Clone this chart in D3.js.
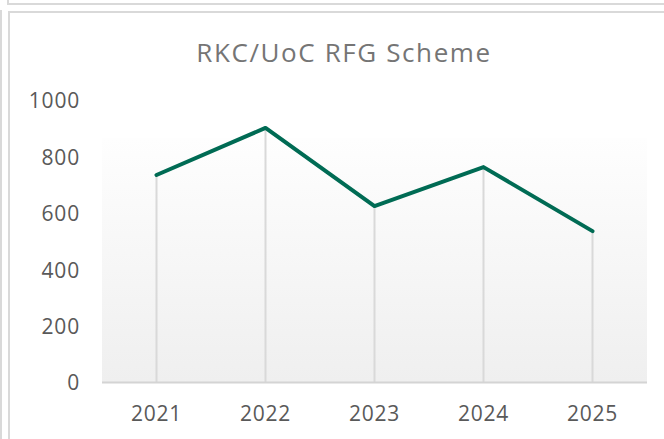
<!DOCTYPE html>
<html>
<head>
<meta charset="utf-8">
<script src="https://cdn.jsdelivr.net/npm/d3@7"></script>
<style>
  body { margin: 0; background: #fff; }
  svg { display: block; font-family: "Open Sans", sans-serif; }
</style>
</head>
<body>
<div id="chart"></div>
<script>
const years = ['2021', '2022', '2023', '2024', '2025'];
const values = [734, 901, 624, 762, 535];
const yTicks = [0, 200, 400, 600, 800, 1000];
const title = 'RKC/UoC RFG Scheme';

const width = 664, height = 439;
const svg = d3.select('#chart').append('svg')
    .attr('width', width)
    .attr('height', height);

// frame lines (neighbouring chart + this chart's border)
const frame = '#d9d9d9';
svg.append('rect').attr('x', 8).attr('y', -10).attr('width', 700).attr('height', 14)
    .style('fill', 'none').style('stroke', frame).style('stroke-width', 2);
svg.append('line').attr('x1', 1).attr('x2', 1).attr('y1', 10).attr('y2', height)
    .style('stroke', frame).style('stroke-width', 2);
svg.append('rect').attr('x', 9).attr('y', 12).attr('width', 700).attr('height', 500)
    .style('fill', 'none').style('stroke', frame).style('stroke-width', 2);

const plot = { left: 102, right: 647, top: 100, bottom: 382 };

const x = d3.scaleBand().domain(years).range([plot.left, plot.right]);
const y = d3.scaleLinear().domain([0, 1000]).range([plot.bottom, plot.top]);

// gradient plot area
const defs = svg.append('defs');
const grad = defs.append('linearGradient').attr('id', 'bg')
    .attr('x1', 0).attr('y1', 0).attr('x2', 0).attr('y2', 1);
grad.append('stop').attr('offset', '0%').attr('stop-color', '#fefefe');
grad.append('stop').attr('offset', '100%').attr('stop-color', '#efefef');

svg.append('rect')
    .attr('x', plot.left).attr('y', 138)
    .attr('width', plot.right - plot.left).attr('height', plot.bottom - 138)
    .style('fill', 'url(#bg)');

// title
svg.append('text')
    .attr('x', 344).attr('y', 62)
    .attr('text-anchor', 'middle')
    .style('font-size', '26px')
    .style('letter-spacing', '1.6px')
    .style('fill', '#757575')
    .text(title);

// y axis labels
svg.selectAll('text.ytick')
    .data(yTicks)
    .enter()
    .append('text')
    .attr('class', 'ytick')
    .attr('x', 80)
    .attr('y', d => y(d) + 1)
    .attr('dy', '0.35em')
    .attr('text-anchor', 'end')
    .style('font-size', '21px')
    .style('letter-spacing', '0.8px')
    .style('fill', '#595959')
    .text(d => d);

// drop lines
const cx = d => x(d) + x.bandwidth() / 2;
svg.selectAll('line.drop')
    .data(years)
    .enter()
    .append('line')
    .attr('class', 'drop')
    .attr('x1', cx).attr('x2', cx)
    .attr('y1', (d, i) => y(values[i]))
    .attr('y2', plot.bottom)
    .style('stroke', '#d9d9d9')
    .style('stroke-width', 2);

// x axis line
svg.append('line')
    .attr('x1', plot.left).attr('x2', plot.right)
    .attr('y1', plot.bottom + 0.5).attr('y2', plot.bottom + 0.5)
    .style('stroke', '#d4d4d4')
    .style('stroke-width', 2);

// x labels
svg.selectAll('text.xtick')
    .data(years)
    .enter()
    .append('text')
    .attr('class', 'xtick')
    .attr('x', cx)
    .attr('y', 414)
    .attr('dy', '0.35em')
    .attr('text-anchor', 'middle')
    .style('font-size', '21px')
    .style('letter-spacing', '0.8px')
    .style('fill', '#595959')
    .text(d => d);

// line
const line = d3.line()
    .x((d, i) => cx(years[i]))
    .y(d => y(d));

svg.append('path')
    .datum(values)
    .attr('d', line)
    .style('fill', 'none')
    .style('stroke', '#006b54')
    .style('stroke-width', 4)
    .style('stroke-linejoin', 'round')
    .style('stroke-linecap', 'round');
</script>
</body>
</html>
